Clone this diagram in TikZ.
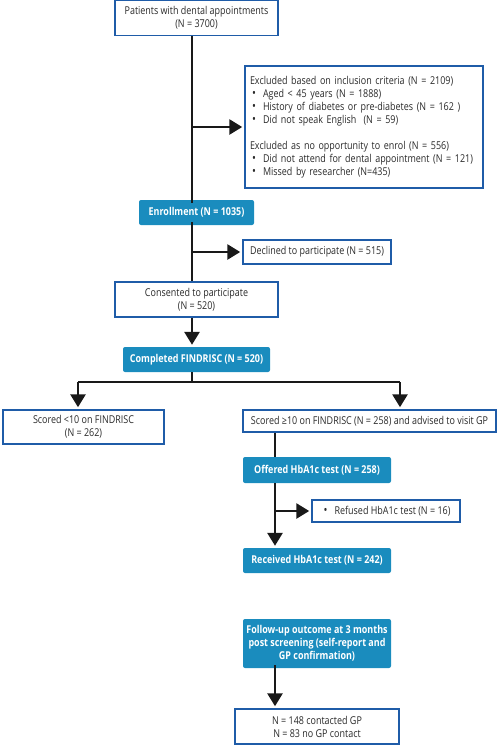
\documentclass[tikz,border=0pt]{standalone}
\usepackage{fontspec}
\setmainfont{Open Sans}[FakeStretch=0.83]
\usetikzlibrary{arrows.meta}
\definecolor{teal}{HTML}{1A8CBE}
\definecolor{bord}{HTML}{1F5CA8}
\definecolor{txt}{HTML}{2A2A2A}
\newcommand\bul[1]{\makebox[13pt][l]{\hspace{2pt}{\fontsize{12.5}{13}\selectfont\textbullet}}#1}
\tikzset{
  wbox/.style={draw=bord, line width=1.5pt, fill=white, text=txt, inner sep=2pt, align=center, font=\fontsize{10.8}{13}\selectfont},
  tbox/.style={fill=teal, rounded corners=2pt, text=white, inner sep=2pt, align=center, font=\fontsize{10.8}{13}\selectfont\bfseries},
  conn/.style={line width=2.8pt, draw=black!90},
  arr/.style={conn, -{Triangle[width=15pt,length=13pt]}, shorten >=2pt},
}
\begin{document}
\begin{tikzpicture}[x=1pt,y=-1pt]
\useasboundingbox (0,0) rectangle (500,745);
\coordinate (colA) at (192,0);
\coordinate (colB) at (275,0);
\coordinate (brL) at (78,382);
\coordinate (brR) at (400,382);
\coordinate (brM) at (192,382);

\node[wbox, minimum width=163pt, minimum height=35pt] (pat) at (196.5,18) {Patients with dental appointments\\(N = 3700)};
\node[wbox, minimum width=238pt, minimum height=122pt, align=left, text width=228pt] (excl) at (364,127) {Excluded based on inclusion criteria (N = 2109)\\
\bul{Aged < 45 years (N = 1888)}\\
\bul{History of diabetes or pre-diabetes (N = 162 )}\\
\bul{Did not speak English\ \ (N = 59)}\\[13pt]
Excluded as no opportunity to enrol (N = 556)\\
\bul{Did not attend for dental appointment (N = 121)}\\
\bul{Missed by researcher (N=435)}};
\node[tbox, minimum width=115pt, minimum height=25pt] (enroll) at (196.5,212.5) {Enrollment (N = 1035)};
\node[wbox, minimum width=148pt, minimum height=24pt] (decl) at (317,252) {Declined to participate (N = 515)};
\node[wbox, minimum width=163pt, minimum height=35pt] (cons) at (196.5,299.5) {Consented to participate\\(N = 520)};
\node[tbox, minimum width=147pt, minimum height=25pt] (comp) at (196.5,359.5) {Completed FINDRISC (N = 520)};
\node[wbox, minimum width=161pt, minimum height=34pt] (low) at (83.5,427) {Scored <10 on FINDRISC\\(N = 262)};
\node[wbox, minimum width=253pt, minimum height=22pt] (high) at (369.5,421) {Scored ≥10 on FINDRISC (N = 258) and advised to visit GP};
\node[tbox, minimum width=148pt, minimum height=26pt] (off) at (317,470) {Offered HbA1c test (N = 258)};
\node[wbox, minimum width=148pt, minimum height=22pt, align=left] (ref) at (386,511) {\bul{Refused HbA1c test (N = 16)}};
\node[tbox, minimum width=148pt, minimum height=25pt] (rec) at (317,560.5) {Received HbA1c test (N = 242)};
\node[tbox, minimum width=148pt, minimum height=49pt] (fol) at (317,643.5) {Follow-up outcome at 3 months\\post screening (self-report and\\GP confirmation)};
\node[wbox, minimum width=164pt, minimum height=35pt] (fin) at (317,726.5) {N = 148 contacted GP\\N = 83 no GP contact};

\draw[conn] (pat.south -| colA) -- ([yshift=-3pt]enroll.north -| colA);
\draw[arr] (colA |- excl.west) -- (excl.west);
\draw[conn] ([yshift=3pt]enroll.south -| colA) -- (cons.north -| colA);
\draw[arr] (colA |- decl.west) -- (decl.west);
\draw[arr] (cons.south -| colA) -- (comp.north -| colA);
\draw[conn] (comp.south -| colA) -- (brM);
\draw[conn] (brL) -- (brR);
\draw[arr] (brL) -- (low.north -| brL);
\draw[arr] (brR) -- (high.north -| brR);
\draw[conn] (high.south -| colB) -- (off.north -| colB);
\draw[arr] (off.south -| colB) -- (rec.north -| colB);
\draw[arr] (colB |- ref.west) -- (ref.west);
\draw[arr] ([yshift=3pt]fol.south -| colB) -- (fin.north -| colB);
\end{tikzpicture}
\end{document}
